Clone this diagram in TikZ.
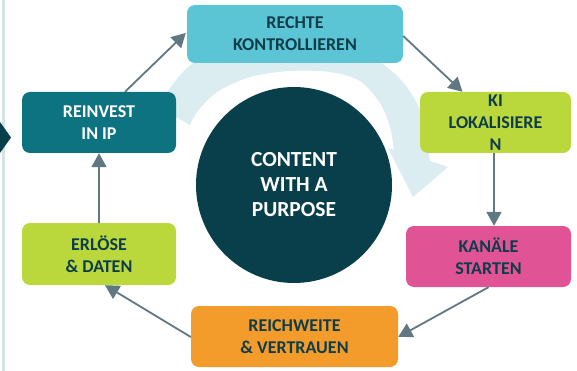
\documentclass[tikz,border=0pt]{standalone}
\usepackage{fontspec}
\setmainfont{Carlito}
\usetikzlibrary{arrows.meta,calc}
\definecolor{cyanbox}{HTML}{5BC5D6}
\definecolor{tealbox}{HTML}{0E7380}
\definecolor{limebox}{HTML}{BAD83C}
\definecolor{pinkbox}{HTML}{E05496}
\definecolor{orangebox}{HTML}{F39C2B}
\definecolor{darkcirc}{HTML}{083F4A}
\definecolor{textdark}{HTML}{0D3D4A}
\definecolor{bandc}{HTML}{DCEDF2}
\definecolor{arrowc}{HTML}{5F7881}
\definecolor{edgeline}{HTML}{D3E4E9}
\begin{document}
\begin{tikzpicture}[x=1pt,y=-1pt,
  box/.style={rounded corners=8pt, inner sep=0pt, align=center,
    font=\bfseries\fontsize{18}{21.7}\selectfont, text=textdark},
  conn/.style={draw=arrowc, line width=1.8pt, -{Triangle[length=14pt,width=15pt]}},
  hub/.style={circle, fill=darkcirc, minimum size=196pt, inner sep=0pt, align=center,
    font=\bfseries\fontsize{21.5}{25}\selectfont, text=white}
]
\useasboundingbox (0,0) rectangle (577,371);
% left edge decorations
\fill[edgeline] (2,0) rectangle (4.5,371);
\fill[darkcirc] (0,122) -- (11,137.5) -- (0,153) -- cycle;
% light circular arrow band
\fill[bandc] plot[smooth] coordinates {(190,125) (197,112) (217,92) (250,77) (290,71) (330,72) (360,81) (380,103) (390,127) (394,150)}
  -- (388,148) -- (413,197) -- (448,167) -- (430,161)
  -- plot[smooth] coordinates {(430,161) (421,112) (401,80) (373,58) (330,44) (280,42) (230,48) (193,63) (170,88) (160,108)}
  -- cycle;
% hub
\node[hub] (C) at (294,185) {CONTENT\\WITH A\\PURPOSE};
% boxes
\node[box, fill=cyanbox, minimum width=216pt, minimum height=58pt] (R) at (295,34) {RECHTE\\KONTROLLIEREN};
\node[box, fill=tealbox, text=white, minimum width=154pt, minimum height=61pt] (RI) at (99,122.5) {REINVEST\\IN IP};
\node[box, fill=limebox, minimum width=151pt, minimum height=61pt] (KI) at (495.5,122.5) {KI\\LOKALISIERE\\N};
\node[box, fill=pinkbox, minimum width=165pt, minimum height=61pt] (KA) at (488.5,256.5) {KANÄLE\\STARTEN};
\node[box, fill=orangebox, minimum width=207pt, minimum height=61pt] (RW) at (294.5,336.5) {REICHWEITE\\\& VERTRAUEN};
\node[box, fill=limebox, minimum width=154pt, minimum height=62pt] (ER) at (99,254) {ERLÖSE\\\& DATEN};
% connectors
\draw[conn] ($(RI.north)+(26,0)$) -- ($(R.west)+(-1,-1)$);
\draw[conn] ($(R.east)+(0,2)$) -- ($(KI.north)+(-33,0)$);
\draw[conn] ($(KI.south)+(-1.5,0)$) -- ($(KA.north)+(5.5,0)$);
\draw[conn] (KA.south) -- ($(RW.east)+(0,0.5)$);
\draw[conn] ($(RW.west)+(0,0.5)$) -- ($(ER.south)+(6,0)$);
\draw[conn] (ER.north) -- (RI.south);
\end{tikzpicture}
\end{document}
